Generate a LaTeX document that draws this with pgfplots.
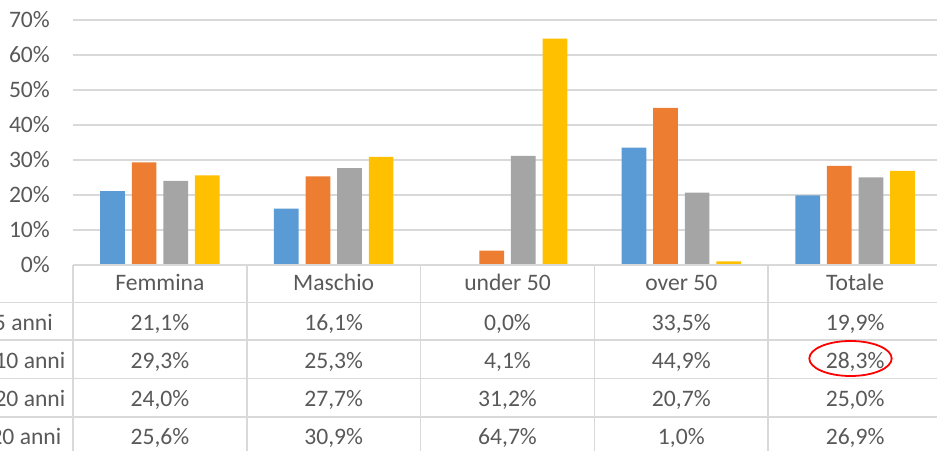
\documentclass[border=0pt]{standalone}
\usepackage{pgfplots}
\pgfplotsset{compat=1.18}
\usepackage{fontspec}
\setmainfont{Carlito}
\definecolor{cBlue}{HTML}{5B9BD5}
\definecolor{cOrange}{HTML}{ED7D31}
\definecolor{cGray}{HTML}{A5A5A5}
\definecolor{cYellow}{HTML}{FFC000}
\definecolor{txt}{HTML}{595959}
\definecolor{gridc}{HTML}{D9D9D9}
\newcommand{\pc}[1]{\pgfmathprintnumber[fixed, fixed zerofill, precision=1, use comma, assume math mode=true]{#1}\%}
\begin{document}
\begin{tikzpicture}[x=1bp,y=1bp]
\useasboundingbox (0,0) rectangle (937,451);
\clip (0,0) rectangle (937,451);
\begin{axis}[
  at={(73bp,186bp)}, anchor=south west,
  scale only axis, width=869bp, height=245bp,
  xmin=-0.5, xmax=4.5, ymin=0, ymax=70,
  ybar=6.9bp, bar width=24.7bp,
  axis line style={draw=none},
  major tick length=0pt,
  ytick={0,10,20,30,40,50,60,70},
  yticklabels={0\%,10\%,20\%,30\%,40\%,50\%,60\%,70\%},
  yticklabel style={inner sep=0pt, anchor=east, xshift=-23bp, text=txt, font=\fontsize{23.6bp}{28bp}\selectfont},
  xtick={0,1,2,3,4},
  xticklabels={Femmina,Maschio,under 50,over 50,Totale},
  xticklabel style={inner sep=0pt, anchor=base, yshift=-26bp, text=txt, font=\fontsize{23.6bp}{28bp}\selectfont},
  ymajorgrids, xmajorgrids=false,
  major grid style={draw=gridc, line width=1.3bp},
  clip=false,
]
\addplot[fill=cBlue, draw=none] coordinates {(0,21.1) (1,16.1) (2,0.0) (3,33.5) (4,19.9)};
\addplot[fill=cOrange, draw=none] coordinates {(0,29.3) (1,25.3) (2,4.1) (3,44.9) (4,28.3)};
\addplot[fill=cGray, draw=none] coordinates {(0,24.0) (1,27.7) (2,31.2) (3,20.7) (4,25.0)};
\addplot[fill=cYellow, draw=none] coordinates {(0,25.6) (1,30.9) (2,64.7) (3,1.0) (4,26.9)};
\end{axis}
% table lines
\draw[draw=gridc, line width=1.5bp] (73,186) -- (945,186);
\foreach \yy in {148.5,111,72.5,34} \draw[draw=gridc, line width=1.5bp] (0,\yy) -- (945,\yy);
\foreach \k in {0,...,5} \draw[draw=gridc, line width=1.5bp] ({73+173.8*\k},186) -- ({73+173.8*\k},0);
% row labels
\begin{scope}[every node/.style={inner sep=0pt, text=txt, font=\fontsize{23.6bp}{28bp}\selectfont}]
\node[anchor=base east] at (53,120.3) {fino a 5 anni};
\node[anchor=base east] at (65.5,82.5) {da 5 a 10 anni};
\node[anchor=base east] at (65.5,44.3) {da 10 a 20 anni};
\node[anchor=base east] at (61.5,6) {oltre 20 anni};
% values
\foreach \a/\b/\c/\d/\e [count=\r from 0] in {
  21.1/16.1/0.0/33.5/19.9,
  29.3/25.3/4.1/44.9/28.3,
  24.0/27.7/31.2/20.7/25.0,
  25.6/30.9/64.7/1.0/26.9}{
  \pgfmathsetmacro{\yb}{120.3-38.1*\r}
  \node[anchor=base] at (159.9,\yb) {\pc{\a}};
  \node[anchor=base] at (333.7,\yb) {\pc{\b}};
  \node[anchor=base] at (507.5,\yb) {\pc{\c}};
  \node[anchor=base] at (681.3,\yb) {\pc{\d}};
  \node[anchor=base] at (855.1,\yb) {\pc{\e}};
}
\end{scope}
\draw[red, line width=1.8bp] (850.5,92.5) ellipse [x radius=41.2, y radius=17.5];
\end{tikzpicture}
\end{document}
